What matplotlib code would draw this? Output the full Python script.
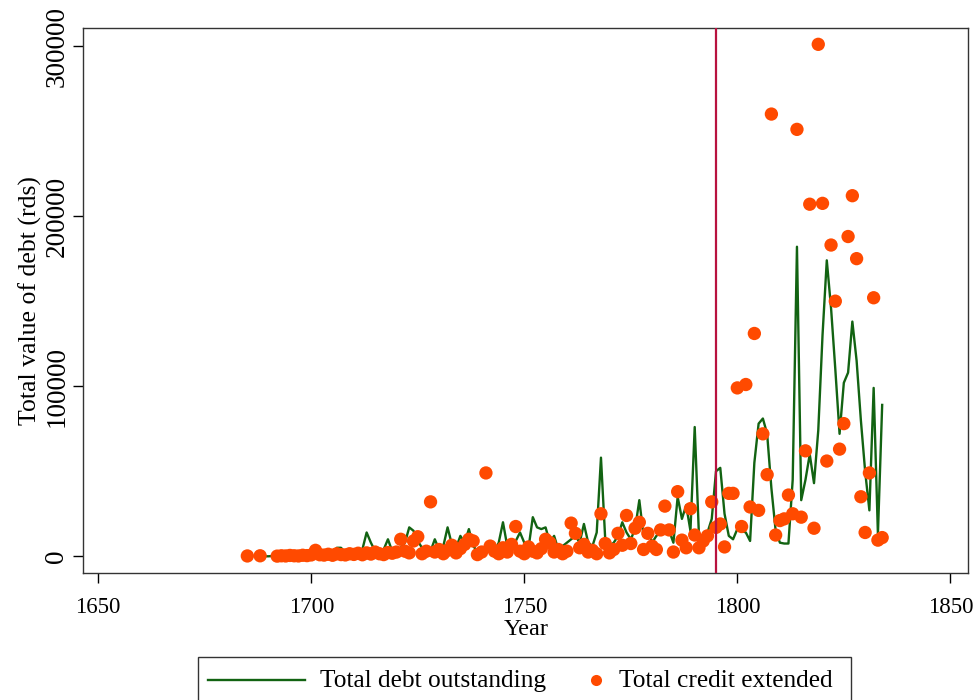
import numpy as np
import matplotlib
matplotlib.use("Agg")
import matplotlib.pyplot as plt
from matplotlib.lines import Line2D
from matplotlib.patches import Rectangle

plt.rcParams['font.family'] = ['Liberation Serif', 'DejaVu Serif']

# total debt outstanding, one value per year
debt_years = list(range(1688, 1835))
debt_values = [
    0, 0, 0, 200, 600, 900, 700, 1000, 800, 1200, 900, 1100, 1300, 1500, 1000, 1200, 1400,   # 1688-1704
    1500, 5000, 5000, 2000, 1000, 3000, 1500, 4000, 14000, 8000, 3000, 2000, 4000, 10000, 3000,  # 1705-1719
    2000, 5000, 8000, 17000, 15000, 9000, 5000, 2000, 3000, 10000,                     # 1720-1729
    4000, 6000, 17000, 7000, 5000, 12000, 8000, 16000, 6000, 3000,                     # 1730-1739
    2000, 4000, 5000, 3000, 8000, 20000, 6000, 4000, 9000, 14000,                      # 1740-1749
    8000, 5000, 23000, 17000, 16000, 17000, 8000, 12000, 4000, 6000,                   # 1750-1759
    8000, 10000, 12000, 8000, 19000, 8000, 6000, 14000, 58000, 10000,                  # 1760-1769
    6000, 8000, 12000, 20000, 14000, 10000, 16000, 33000, 12000, 16000,                # 1770-1779
    8000, 12000, 14000, 15000, 15000, 8000, 35000, 22000, 30000, 15000,                # 1780-1789
    76000, 12000, 8000, 14000, 22000, 50000, 52000, 25000, 12000, 10000,               # 1790-1799
    16000, 15000, 14000, 9000, 55000, 78000, 81000, 72000, 40000, 15000,               # 1800-1809
    8000, 7500, 7500, 45000, 182000, 33000, 45000, 60000, 43000, 74000,                # 1810-1819
    130000, 174000, 146000, 110000, 72000, 102000, 108000, 138000, 115000, 80000,      # 1820-1829
    50000, 27000, 99000, 13000, 89000,                                                 # 1830-1834
]

# total credit extended
credit_years = [1685, 1688] + list(range(1692, 1835))
credit_values = [
    200, 300,
    100, 300, 200, 500, 300, 200, 600, 400,                                            # 1692-1699
    800, 3500, 900, 700, 1200, 600, 1500, 1000, 800, 1500,                             # 1700-1709
    1100, 1800, 900, 2000, 1300, 2500, 1500, 1000, 2200, 1800,                         # 1710-1719
    2500, 10000, 3000, 2000, 9000, 11500, 1500, 3000, 32000, 2500,                     # 1720-1729
    4000, 1500, 3500, 6500, 2000, 4500, 7000, 10000, 9000, 1000,                       # 1730-1739
    2500, 49000, 6000, 3000, 1500, 5000, 2500, 7000, 17500, 3000,                      # 1740-1749
    1500, 5500, 3000, 2000, 4500, 10000, 8000, 2500, 4000, 1500,                       # 1750-1759
    3000, 19500, 13500, 5000, 7000, 2500, 3500, 1500, 25000, 7500,                     # 1760-1769
    2000, 4000, 13500, 6500, 24000, 7500, 16500, 20000, 4000, 13500,                   # 1770-1779
    6000, 4000, 15500, 29500, 15500, 2500, 38000, 9500, 5000, 28000,                   # 1780-1789
    12500, 5000, 9000, 12000, 32000, 17000, 19000, 5500, 37000, 37000,                 # 1790-1799
    99000, 17500, 101000, 29000, 131000, 27000, 72000, 48000, 260000, 12500,           # 1800-1809
    21000, 22000, 36000, 25000, 251000, 23000, 62000, 207000, 16500, 301000,           # 1810-1819
    207500, 56000, 183000, 150000, 63000, 78000, 188000, 212000, 175000, 35000,        # 1820-1829
    14000, 49000, 152000, 9500, 11000,                                                 # 1830-1834
]

marker_year = 1795
green = '#126312'
orange = '#ff4a00'

fig = plt.figure(figsize=(9.8, 7), dpi=100)
ax = fig.add_axes([0.085, 0.181, 0.903, 0.779])

ax.plot(debt_years, debt_values, color=green, lw=1.7, zorder=2)
ax.scatter(credit_years, credit_values, s=92, color=orange, edgecolors='none', zorder=3)
ax.axvline(marker_year, color='#b8123f', lw=1.6, zorder=4)

ax.set_xlim(1646.5, 1854.2)
ax.set_ylim(-10000, 310600)
ax.set_xticks([1650, 1700, 1750, 1800, 1850])
ax.set_yticks([0, 100000, 200000, 300000])
ax.set_yticklabels(['0', '100000', '200000', '300000'], rotation=90, va='center')
ax.tick_params(axis='x', labelsize=16.5, length=7, width=1, pad=10)
ax.tick_params(axis='y', labelsize=19.5, length=7, width=1, pad=3)
ax.set_xlabel('Year', fontsize=17.5, labelpad=1)
ax.set_ylabel('Total value of debt (rds)', fontsize=18.5, labelpad=2)
for sp in ax.spines.values():
    sp.set_color('#333333')
    sp.set_linewidth(1.0)

# legend box below the plot, drawn in figure pixels
W, H = 980, 700
fig.add_artist(Rectangle((198 / W, 1 - 712 / H), (851 - 198) / W, 55 / H,
                         transform=fig.transFigure, facecolor='white',
                         edgecolor='#333333', lw=1.0))
fig.add_artist(Line2D([208 / W, 305 / W], [1 - 680 / H] * 2, transform=fig.transFigure,
                      color=green, lw=1.7))
fig.add_artist(Line2D([596 / W], [1 - 680 / H], transform=fig.transFigure,
                      marker='o', markersize=8, color=orange, markeredgewidth=0))
fig.text(320 / W, 1 - 681 / H, 'Total debt outstanding', fontsize=18.3, va='center', ha='left')
fig.text(619 / W, 1 - 681 / H, 'Total credit extended', fontsize=18.3, va='center', ha='left')

fig.savefig('out.png', dpi=100, facecolor='white')
